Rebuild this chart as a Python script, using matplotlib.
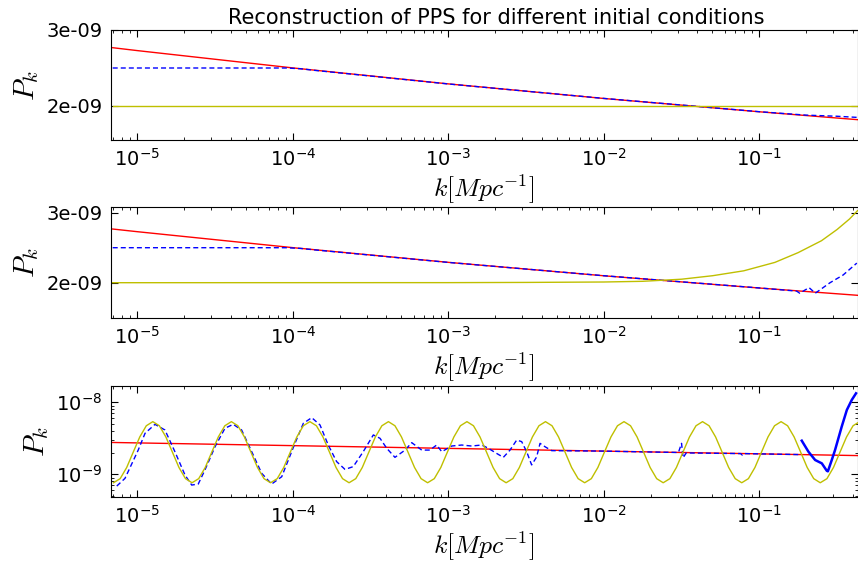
import numpy as np
import matplotlib
matplotlib.use("Agg")
import matplotlib.pyplot as plt
from matplotlib.ticker import FixedLocator, FormatStrFormatter

plt.rcParams['mathtext.fontset'] = 'cm'

# all k values are log10(k / Mpc^-1), all P values in units of 1e-9

# fiducial power law (red), same in every panel
red_logk = [-5.158, -5.0, -4.0, -3.0, -2.0, -1.0, -0.368]
red_pk = [2.767, 2.729, 2.501, 2.291, 2.099, 1.924, 1.820]

# panel 1: flat initial condition
yel1_logk = [-5.158, -0.368]
yel1_pk = [2.0, 2.0]
blue1_logk = [-5.158, -4.3, -4.04, -3.95, -3.85, -3.0, -2.0, -1.0, -0.7, -0.5, -0.368]
blue1_pk = [2.5, 2.5, 2.5, 2.49, 2.467, 2.29, 2.10, 1.925, 1.88, 1.865, 1.85]

# panel 2: rising initial condition
yel2_logk = [-5.158, -3.0, -2.5, -2.0, -1.75, -1.5, -1.3, -1.1, -0.9, -0.75, -0.6, -0.5, -0.42, -0.368]
yel2_pk = [2.0, 2.001, 2.004, 2.01, 2.02, 2.05, 2.10, 2.17, 2.29, 2.43, 2.60, 2.76, 2.91, 3.03]
blue2_logk = [-5.158, -4.3, -4.04, -3.95, -3.85, -3.0, -2.0, -1.0, -0.76, -0.74, -0.68, -0.64,
              -0.545, -0.461, -0.373]
blue2_pk = [2.5, 2.5, 2.5, 2.49, 2.467, 2.29, 2.10, 1.925, 1.88, 1.85, 1.93, 1.85,
            2.0, 2.11, 2.28]

# panel 3: oscillating initial condition
yel3_logk = [
    -5.153, -5.110, -5.068, -5.026, -4.984, -4.942, -4.900, -4.858, -4.816, -4.774, -4.732, -4.690,
    -4.648, -4.605, -4.563, -4.521, -4.479, -4.437, -4.395, -4.353, -4.311, -4.269, -4.227, -4.185,
    -4.143, -4.100, -4.058, -4.016, -3.974, -3.932, -3.890, -3.848, -3.806, -3.764, -3.722, -3.680,
    -3.638, -3.595, -3.553, -3.511, -3.469, -3.427, -3.385, -3.343, -3.301, -3.259, -3.217, -3.175,
    -3.133, -3.090, -3.048, -3.006, -2.964, -2.922, -2.880, -2.838, -2.796, -2.754, -2.712, -2.670,
    -2.628, -2.585, -2.543, -2.501, -2.459, -2.417, -2.375, -2.333, -2.291, -2.249, -2.207, -2.165,
    -2.123, -2.080, -2.038, -1.996, -1.954, -1.912, -1.870, -1.828, -1.786, -1.744, -1.702, -1.660,
    -1.618, -1.575, -1.533, -1.491, -1.449, -1.407, -1.365, -1.323, -1.281, -1.239, -1.197, -1.155,
    -1.113, -1.070, -1.028, -0.986, -0.944, -0.902, -0.860, -0.818, -0.776, -0.734, -0.692, -0.650,
    -0.608, -0.565, -0.523, -0.481, -0.439, -0.397, -0.355]
yel3_pk = [
    0.764, 0.871, 1.245, 2.03, 3.30, 4.72, 5.38, 4.72, 3.30, 2.03, 1.245, 0.871,
    0.764, 0.871, 1.245, 2.03, 3.30, 4.72, 5.38, 4.72, 3.30, 2.03, 1.245, 0.871,
    0.764, 0.871, 1.245, 2.03, 3.30, 4.72, 5.38, 4.72, 3.30, 2.03, 1.245, 0.871,
    0.764, 0.871, 1.245, 2.03, 3.30, 4.72, 5.38, 4.72, 3.30, 2.03, 1.245, 0.871,
    0.764, 0.871, 1.245, 2.03, 3.30, 4.72, 5.38, 4.72, 3.30, 2.03, 1.245, 0.871,
    0.764, 0.871, 1.245, 2.03, 3.30, 4.72, 5.38, 4.72, 3.30, 2.03, 1.245, 0.871,
    0.764, 0.871, 1.245, 2.03, 3.30, 4.72, 5.38, 4.72, 3.30, 2.03, 1.245, 0.871,
    0.764, 0.871, 1.245, 2.03, 3.30, 4.72, 5.38, 4.72, 3.30, 2.03, 1.245, 0.871,
    0.764, 0.871, 1.245, 2.03, 3.30, 4.72, 5.38, 4.72, 3.30, 2.03, 1.245, 0.871,
    0.764, 0.871, 1.245, 2.03, 3.30, 4.72, 5.38]
blue3_logk = [
    -5.132, -5.079, -4.994, -4.950, -4.886, -4.822, -4.758, -4.693, -4.650, -4.608,
    -4.565, -4.500, -4.436, -4.383, -4.329, -4.264, -4.200, -4.136, -4.071, -4.050,
    -3.986, -3.932, -3.878, -3.825, -3.772, -3.718, -3.664, -3.611, -3.547, -3.482,
    -3.439, -3.396, -3.343, -3.278, -3.235, -3.171, -3.118, -3.075, -3.042, -2.978,
    -2.914, -2.850, -2.785, -2.743, -2.689, -2.646, -2.603, -2.560, -2.528, -2.496,
    -2.464, -2.432, -2.410, -2.378, -2.335, -2.0, -1.8, -1.52, -1.50, -1.49,
    -1.47, -1.12, -1.11, -1.10, -0.75]
blue3_pk = [
    0.687, 0.879, 2.17, 3.71, 4.94, 4.12, 2.06, 0.977, 0.710, 0.733,
    1.148, 2.415, 4.36, 4.94, 4.12, 2.06, 1.033, 0.733, 0.927, 1.21,
    2.69, 5.11, 6.11, 4.84, 2.55, 1.50, 1.17, 1.28, 2.06, 3.52,
    3.16, 2.30, 1.72, 2.17, 2.75, 2.17, 2.17, 2.55, 2.06, 2.47,
    2.55, 2.47, 2.55, 2.30, 1.95, 1.72, 2.17, 2.99, 2.84, 2.06,
    1.35, 1.74, 2.69, 2.415, 2.13, 2.10, 2.06, 2.01, 2.69, 1.70,
    1.98, 1.94, 1.85, 1.94, 1.88]
# noisy high-k end of the reconstruction (dense points, looks solid)
noisy3_logk = [-0.727, -0.684, -0.641, -0.598, -0.566, -0.559, -0.534, -0.513, -0.470,
               -0.437, -0.405, -0.378]
noisy3_pk = [2.93, 2.06, 1.58, 1.42, 1.12, 1.10, 1.58, 2.17, 4.59, 7.82, 10.8, 13.3]


def k(logk):
    return 10 ** np.array(logk)


def pk(vals):
    return np.array(vals) * 1e-9


fig = plt.figure(figsize=(8.58, 5.66), dpi=100)
left, width = 0.129, 0.8705
ax1 = fig.add_axes([left, 0.7527, width, 0.1943])
ax2 = fig.add_axes([left, 0.4387, width, 0.1961])
ax3 = fig.add_axes([left, 0.1224, width, 0.1956])

dash = (3.6, 2.2)

ax1.plot(k(red_logk), pk(red_pk), 'r-', lw=1)
ax1.plot(k(blue1_logk), pk(blue1_pk), 'b--', lw=1, dashes=dash)
ax1.plot(k(yel1_logk), pk(yel1_pk), 'y-', lw=1)

ax2.plot(k(red_logk), pk(red_pk), 'r-', lw=1)
ax2.plot(k(blue2_logk), pk(blue2_pk), 'b--', lw=1, dashes=dash)
ax2.plot(k(yel2_logk), pk(yel2_pk), 'y-', lw=1)

ax3.plot(k(red_logk), pk(red_pk), 'r-', lw=1)
ax3.plot(k(blue3_logk), pk(blue3_pk), 'b--', lw=1, dashes=dash)
ax3.plot(k(noisy3_logk), pk(noisy3_pk), 'b-', lw=1.8)
ax3.plot(k(yel3_logk), pk(yel3_pk), 'y-', lw=1)
ax3.set_yscale('log')

ax1.set_ylim(1.553e-9, 3.0e-9)
ax2.set_ylim(1.5e-9, 3.086e-9)
ax3.set_ylim(4.89e-10, 1.68e-8)

for ax in (ax1, ax2):
    ax.yaxis.set_major_locator(FixedLocator([2e-9, 3e-9]))
    ax.yaxis.set_major_formatter(FormatStrFormatter('%.0e'))

for ax in (ax1, ax2, ax3):
    ax.set_xscale('log')
    ax.set_xlim(6.745e-6, 0.4285)
    ax.tick_params(which='both', direction='in', top=True, right=True, labelsize=14, pad=6)
    ax.tick_params(which='major', length=5)
    ax.tick_params(which='minor', length=2.5)
    ax.set_xlabel(r'$k[Mpc^{-1}]$', fontsize=18.5, labelpad=2)
    ax.set_ylabel(r'$P_k$', fontsize=21, labelpad=4)

fig.text(0.5787, 1 - 18 / 566, 'Reconstruction of PPS for different initial conditions',
         ha='center', va='center', fontsize=15)

fig.savefig('out.png', dpi=100)
